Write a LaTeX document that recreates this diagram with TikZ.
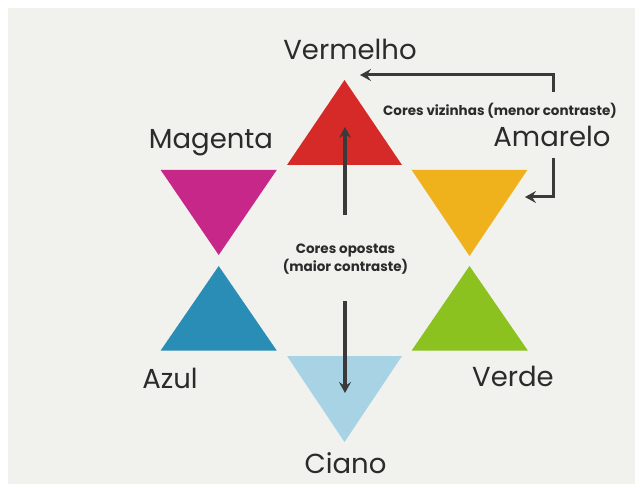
\documentclass[tikz,border=0pt]{standalone}
\usepackage{fontspec}
\setmainfont{Poppins}
\usepackage{tikz}
\usetikzlibrary{arrows.meta,positioning}

\definecolor{paper}{HTML}{F1F1ED}
\definecolor{ink}{HTML}{2B2B2B}
\definecolor{arrowgrey}{HTML}{3A3A3A}
\definecolor{vermelho}{HTML}{D62A28}
\definecolor{magenta}{HTML}{C8278A}
\definecolor{amarelo}{HTML}{F0B21C}
\definecolor{azul}{HTML}{2A8DB5}
\definecolor{verde}{HTML}{8CC21F}
\definecolor{ciano}{HTML}{A8D3E5}

\begin{document}
\begin{tikzpicture}[x=1pt, y=-1pt]
        % Define styles
        \tikzstyle{colorname} = [text=ink, font=\fontsize{27.5}{29}\selectfont, inner sep=0pt, anchor=base]
        \tikzstyle{note} = [text=ink, font=\fontsize{13.5}{15}\selectfont\bfseries, inner sep=0pt, anchor=base]
        \tikzstyle{line} = [draw=arrowgrey, line width=3.5pt, -{Stealth[length=11pt, width=12pt, inset=4pt]}]

        % Page
        \useasboundingbox (0,0) rectangle (635,484);
        \fill[white] (0,0) rectangle (635,484);
        \fill[paper] (8,8) rectangle (635,484);

        % Triangles
        \fill[vermelho] (344.5,80) -- (402,165) -- (287,165) -- cycle;
        \fill[magenta] (160.7,170) -- (276.7,170) -- (218.7,255) -- cycle;
        \fill[amarelo] (411.7,170) -- (527.3,170) -- (469.5,256) -- cycle;
        \fill[azul] (218.7,266) -- (276.7,350.5) -- (160.7,350.5) -- cycle;
        \fill[verde] (469.5,266) -- (527.8,350.5) -- (411.7,350.5) -- cycle;
        \fill[ciano] (287,356) -- (402,356) -- (344.5,442) -- cycle;

        % Labels
        \node [colorname] (Vermelho) at (350,60) {Vermelho};
        \node [colorname] (Magenta) at (211,149) {Magenta};
        \node [colorname] (Amarelo) at (552,147) {Amarelo};
        \node [colorname] (Azul) at (170,388) {Azul};
        \node [colorname] (Verde) at (513,386) {Verde};
        \node [colorname] (Ciano) at (345.5,473) {Ciano};
        \node [note] (Vizinhas) at (500,116) {Cores vizinhas (menor contraste)};
        \node [note] (Opostas) at (345.5,253) {Cores opostas};
        \node [note] (Contraste) at (345.5,271) {(maior contraste)};

        % Arrow ends
        \coordinate (Up_Start) at (345,215);
        \coordinate (Up_End) at (345,127);
        \coordinate (Down_Start) at (345,301);
        \coordinate (Down_End) at (345,393);
        \coordinate (Top_Start) at (553,92);
        \coordinate (Top_End) at (360,75);
        \coordinate (Side_Start) at (553,158);
        \coordinate (Side_End) at (525,197);

        % Arrows
        \path [line] (Up_Start) -- (Up_End);
        \path [line] (Down_Start) -- (Down_End);
        \path [line, line width=3pt] (Top_Start) |- (Top_End);
        \path [line, line width=3pt] (Side_Start) |- (Side_End);
    \end{tikzpicture}
\end{document}
